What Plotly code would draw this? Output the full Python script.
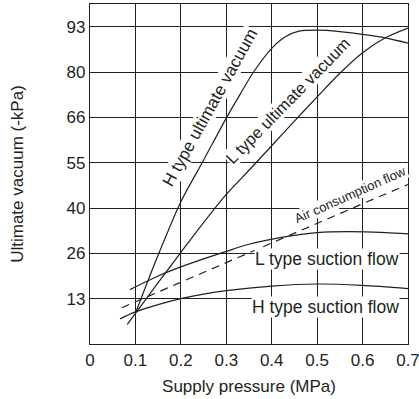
import numpy as np
import plotly.graph_objects as go

# Axis ticks
x_ticks = [0, 0.1, 0.2, 0.3, 0.4, 0.5, 0.6, 0.7]
y_tick_values = [13, 26, 40, 55, 66, 80, 93]  # evenly spaced on the chart

# Curves (supply pressure MPa, vacuum / flow in chart units of -kPa labels)
h_ult_x = [0.10, 0.15, 0.20, 0.25, 0.30, 0.33, 0.36, 0.40, 0.43, 0.46, 0.50, 0.55, 0.60, 0.65, 0.70]
h_ult_y = [8.8, 25.5, 42.1, 55.6, 65.8, 73.0, 80.0, 86.8, 90.1, 91.7, 92.0, 91.6, 90.8, 89.8, 88.3]

l_ult_x = [0.082, 0.10, 0.15, 0.20, 0.25, 0.30, 0.35, 0.40, 0.45, 0.50, 0.55, 0.60, 0.65, 0.70]
l_ult_y = [5.6, 8.8, 17.6, 26.3, 35.5, 44.5, 52.5, 59.1, 65.1, 72.3, 79.6, 85.5, 89.8, 92.6]

air_x = [0.07, 0.10, 0.20, 0.30, 0.40, 0.50, 0.60, 0.70]
air_y = [10.4, 12.1, 17.7, 23.3, 29.2, 35.2, 41.4, 47.8]

l_suc_x = [0.088, 0.15, 0.20, 0.25, 0.30, 0.35, 0.425, 0.50, 0.57, 0.65, 0.70]
l_suc_y = [15.6, 19.5, 22.1, 24.4, 26.6, 28.8, 31.0, 32.4, 32.7, 32.4, 32.0]

h_suc_x = [0.066, 0.10, 0.15, 0.20, 0.25, 0.30, 0.40, 0.50, 0.60, 0.70]
h_suc_y = [7.2, 9.2, 11.3, 13.0, 14.3, 15.3, 16.6, 17.2, 16.8, 15.9]

# chart's y scale: tick labels are evenly spaced
scale_vals = [0] + y_tick_values
scale_pos = list(range(len(scale_vals)))


def to_axis(v):
    return np.interp(v, scale_vals, scale_pos)


INK = "#231f20"
FONT = "Liberation Sans, Arial, sans-serif"

fig = go.Figure()
line_style = dict(color=INK, width=1.2, shape="spline", smoothing=0.8)
for xs, ys in [(h_ult_x, h_ult_y), (l_ult_x, l_ult_y), (l_suc_x, l_suc_y), (h_suc_x, h_suc_y)]:
    fig.add_trace(go.Scatter(x=xs, y=to_axis(ys), mode="lines", line=line_style,
                             showlegend=False, hoverinfo="skip"))
fig.add_trace(go.Scatter(x=air_x, y=to_axis(air_y), mode="lines",
                         line=dict(color=INK, width=1.2, dash="8px,6px"),
                         showlegend=False, hoverinfo="skip"))

labels = [
    dict(text="H type ultimate vacuum", x=0.264, y=5.22, textangle=-61, size=17),
    dict(text="L type ultimate vacuum", x=0.434, y=5.37, textangle=-45.5, size=16.5),
    dict(text="Air consumption flow", x=0.574, y=3.3, textangle=-24, size=13),
    dict(text="L type suction flow", x=0.521, y=1.87, textangle=0, size=17.5),
    dict(text="H type suction flow", x=0.519, y=0.81, textangle=0, size=17.5),
]
for lab in labels:
    fig.add_annotation(x=lab["x"], y=lab["y"], xref="x", yref="y", text=lab["text"],
                       textangle=lab["textangle"], showarrow=False, bgcolor="white",
                       borderpad=0, font=dict(family=FONT, size=lab["size"], color=INK))

fig.update_xaxes(range=[0, 0.7], tickvals=x_ticks, ticktext=[f"{v:g}" for v in x_ticks],
                 showgrid=True, gridcolor=INK, gridwidth=1.3, zeroline=False,
                 showline=True, linecolor=INK, linewidth=1.3, mirror=True, automargin=False,
                 ticks="", ticklabeloverflow="allow",
                 tickfont=dict(family=FONT, size=17, color=INK),
                 title=dict(text="Supply pressure (MPa)", font=dict(family=FONT, size=17, color=INK),
                            standoff=11))
fig.update_yaxes(range=[0, 7.5], tickvals=list(range(1, len(y_tick_values) + 1)),
                 ticktext=[str(v) for v in y_tick_values],
                 showgrid=True, gridcolor=INK, gridwidth=1.3, zeroline=False,
                 showline=True, linecolor=INK, linewidth=1.3, mirror=True, automargin=False,
                 ticks="", tickfont=dict(family=FONT, size=17, color=INK),
                 title=dict(text="Ultimate vacuum (-kPa)", font=dict(family=FONT, size=17, color=INK),
                            standoff=38))
fig.update_layout(width=419, height=399, margin=dict(l=90, r=11, t=4, b=55),
                  plot_bgcolor="white", paper_bgcolor="white")
fig.write_html("out.html", config={"displayModeBar": False},
               post_script="document.body.style.margin='0';")
